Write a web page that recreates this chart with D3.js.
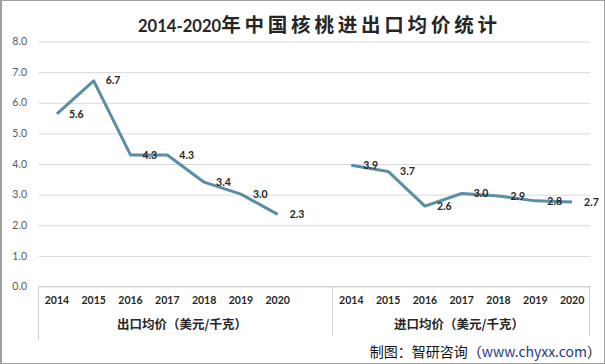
<!DOCTYPE html>
<html>
<head>
<meta charset="utf-8">
<script src="https://cdn.jsdelivr.net/npm/d3@7/dist/d3.min.js"></script>
<style>
  html, body { margin: 0; padding: 0; background: #fff; }
  svg { display: block; }
</style>
</head>
<body>
<svg id="chart" width="605" height="364"></svg>
<script>
const years = ["2014", "2015", "2016", "2017", "2018", "2019", "2020"];
const exportPrice = [5.62, 6.7, 4.28, 4.28, 3.39, 3.0, 2.34];
const importPrice = [3.94, 3.74, 2.61, 3.02, 2.94, 2.78, 2.74];
const groupTitles = ["出口均价（美元/千克）", "进口均价（美元/千克）"];
const yTicks = [0, 1, 2, 3, 4, 5, 6, 7, 8];
const titleNum = "2014-2020";
const titleCjk = "年中国核桃进出口均价统计";

const W = 605, H = 364;
const svg = d3.select("#chart");
const lineColor = "#5a8ea5";
const textDark = "#262626";

// categories: 7 export years, a gap slot, 7 import years
const keys = years.map(y => "e" + y).concat(["gap"]).concat(years.map(y => "i" + y));
const x = d3.scaleBand().domain(keys).range([38.5, 590.5]).padding(0);
const y = d3.scaleLinear().domain([0, 8]).range([286, 41]);

svg.append("rect").attr("x", 0).attr("y", 0).attr("width", W).attr("height", H).attr("fill", "#fff");

// grid lines
const grid = d3.axisLeft(y).tickValues(yTicks).tickSize(-(590.5 - 38.5)).tickFormat("");
svg.append("g").attr("transform", "translate(38.5,0)").call(grid)
  .call(g => g.select(".domain").remove())
  .call(g => g.selectAll("line").attr("stroke", "#d9d9d9").attr("stroke-width", 1)
     .attr("transform", "translate(0,0.5)"));

// y labels
const yAxis = d3.axisLeft(y).tickValues(yTicks).tickSize(0).tickPadding(0).tickFormat(d3.format(".1f"));
svg.append("g").attr("transform", "translate(27,0)").call(yAxis)
  .call(g => g.select(".domain").remove())
  .call(g => g.selectAll("text").attr("font-family", "Lato, 'Open Sans', sans-serif")
     .attr("font-size", "10.5px").attr("fill", "#595959").attr("dy", "0.35em"));

// category axis (multi-level)
const axisG = svg.append("g");
axisG.append("line").attr("x1", 38.5).attr("x2", 590.5).attr("y1", y(0) + 0.5).attr("y2", y(0) + 0.5)
  .attr("stroke", "#d0d0d0");
[x("e2014"), x("gap") + x.bandwidth(), x("i2020") + x.bandwidth()].forEach((px, i) => {
  axisG.append("line").attr("x1", Math.round(px) - 0.5).attr("x2", Math.round(px) - 0.5)
    .attr("y1", y(0)).attr("y2", i === 0 ? 340 : 336).attr("stroke", "#d0d0d0");
});

const xAxis = d3.axisBottom(x).tickSize(0).tickPadding(0)
  .tickFormat(k => k === "gap" ? "" : k.slice(1));
svg.append("g").attr("transform", "translate(0,300)").call(xAxis)
  .call(g => g.select(".domain").remove())
  .call(g => g.selectAll("text").attr("font-family", "Lato, 'Open Sans', sans-serif")
     .attr("font-weight", "bold").attr("font-size", "10.5px").attr("fill", textDark)
     .attr("dy", "0.35em"));

// group titles
const groupCenters = [182, 459];
groupTitles.forEach((t, i) => {
  svg.append("text").attr("x", groupCenters[i]).attr("y", 325).attr("dy", "0.35em")
    .attr("text-anchor", "middle")
    .attr("font-family", "'Noto Sans CJK SC', sans-serif").attr("font-weight", "bold")
    .attr("font-size", "12.5px").attr("fill", textDark).text(t);
});

// lines
const line = d3.line().x(d => x(d.k) + x.bandwidth() / 2).y(d => y(d.v));
const series = [
  years.map((yr, i) => ({ k: "e" + yr, v: exportPrice[i] })),
  years.map((yr, i) => ({ k: "i" + yr, v: importPrice[i] }))
];
series.forEach(s => {
  svg.append("path").datum(s).attr("d", line).attr("fill", "none")
    .attr("stroke", lineColor).attr("stroke-width", 3).attr("stroke-linejoin", "round");
  svg.append("g").selectAll("text").data(s).join("text")
    .attr("x", d => x(d.k) + x.bandwidth() / 2 + 12).attr("y", d => y(d.v)).attr("dy", "0.35em")
    .attr("font-family", "Lato, 'Open Sans', sans-serif").attr("font-weight", "bold")
    .attr("font-size", "10.5px").attr("fill", textDark)
    .text(d => d.v.toFixed(1));
});

// title
const title = svg.append("text").attr("x", 138).attr("y", 31.5)
  .attr("font-weight", "bold").attr("fill", textDark);
title.append("tspan").attr("font-family", "Lato, sans-serif").attr("font-size", "16.6px").text(titleNum);
title.append("tspan").attr("font-family", "'Noto Sans CJK SC', sans-serif").attr("font-size", "19.5px")
  .attr("letter-spacing", "3.8px").text(titleCjk);

// footer
const foot = svg.append("text").attr("x", 601).attr("y", 352).attr("dy", "0.35em")
  .attr("text-anchor", "end").attr("font-family", "'Noto Sans CJK SC', sans-serif")
  .attr("font-size", "14px").attr("fill", "#111");
foot.append("tspan").text("制图：智研咨询（");
foot.append("tspan").attr("fill", "#1f3c88").text("www.chyxx.com");
foot.append("tspan").text("）");

// border
svg.append("rect").attr("x", 0.5).attr("y", 0.5).attr("width", W - 1).attr("height", H - 1)
  .attr("fill", "none").attr("stroke", "#a0a0a0");
svg.append("line").attr("x1", 1).attr("x2", 1).attr("y1", 0).attr("y2", H)
  .attr("stroke", "#a0a0a0").attr("stroke-width", 2);
</script>
</body>
</html>
